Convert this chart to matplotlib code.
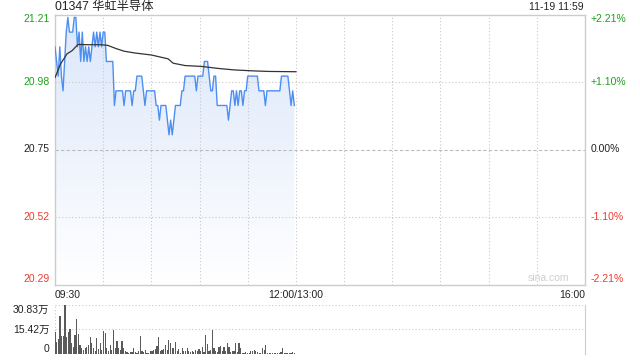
import numpy as np
import matplotlib
matplotlib.use('Agg')
import matplotlib.pyplot as plt
from matplotlib.colors import LinearSegmentedColormap

plt.rcParams['font.family'] = ['Liberation Sans', 'Noto Sans CJK SC', 'DejaVu Sans']

# header texts
title = '01347 华虹半导体'
stamp = '11-19 11:59'

# price axis
price_ticks = [21.21, 20.98, 20.75, 20.52, 20.29]
price_labels = ['21.21', '20.98', '20.75', '20.52', '20.29']
pct_labels = ['+2.21%', '+1.10%', '0.00%', '-1.10%', '-2.21%']
time_labels = ['09:30', '12:00/13:00', '16:00']
time_pos = [0, 150, 330]

# minute prices 09:30 - 11:59
prices = [21.10, 21.05, 21.00, 21.10, 21.00, 20.95, 21.05, 21.15, 21.20, 21.15,
          21.15, 21.15, 21.20, 21.20, 21.10, 21.15, 21.05, 21.15, 21.05, 21.10,
          21.05, 21.10, 21.05, 21.10, 21.15, 21.10, 21.15, 21.10, 21.15, 21.10,
          21.15, 21.15, 21.05, 21.05, 21.05, 21.05, 21.05, 20.90, 20.95, 20.95,
          20.95, 20.95, 20.95, 20.90, 20.95, 20.95, 20.95, 20.95, 20.90, 20.95,
          20.95, 21.00, 21.00, 21.00, 21.00, 20.95, 20.90, 20.95, 20.95, 20.95,
          20.95, 20.95, 20.95, 20.90, 20.90, 20.85, 20.90, 20.90, 20.90, 20.90,
          20.85, 20.80, 20.85, 20.80, 20.85, 20.90, 20.90, 20.90, 20.90, 20.95,
          20.95, 21.00, 21.00, 21.00, 21.00, 21.00, 21.00, 21.00, 20.95, 21.00,
          21.00, 21.00, 21.00, 21.05, 21.05, 21.05, 21.00, 20.95, 20.95, 21.00,
          21.00, 20.90, 20.90, 20.90, 20.90, 20.90, 20.90, 20.90, 20.85, 20.90,
          20.95, 20.95, 20.90, 20.95, 20.90, 20.95, 20.95, 20.90, 20.95, 20.95,
          21.00, 21.00, 21.00, 21.00, 21.00, 21.00, 21.00, 20.95, 20.95, 20.95,
          20.95, 20.90, 20.95, 20.95, 20.95, 20.95, 20.95, 20.95, 20.95, 20.95,
          20.95, 21.00, 21.00, 21.00, 21.00, 21.00, 20.95, 20.90, 20.95, 20.90]

# average price line (minute, value)
avg_minutes = [0, 3.4, 7.5, 10.7, 14.3, 20, 28.5, 32.7, 38, 43, 49.5, 60, 70.4,
               73.6, 81, 91.4, 102, 112, 123, 133, 150]
avg_prices = [20.995, 21.041, 21.076, 21.087, 21.108, 21.107, 21.107, 21.105,
              21.094, 21.085, 21.079, 21.072, 21.059, 21.044, 21.036, 21.033,
              21.026, 21.021, 21.018, 21.016, 21.015]

# volume in 万 shares
vol_labels = ['30.83万', '15.42万', '0']
vol_ticks = [30.83, 15.42, 0]
volumes = [14.0, 7.8, 9.2, 23.9, 11.3, 11.3, 30.8, 10.5, 13.6, 15.7,
           6.7, 4.6, 12.0, 22.0, 12.6, 5.7, 3.6, 2.5, 3.6, 4.6,
           5.7, 10.5, 6.7, 3.6, 2.1, 9.9, 2.9, 6.7, 2.5, 14.7,
           13.0, 3.6, 2.1, 5.7, 2.5, 15.1, 3.6, 8.2, 3.6, 2.5,
           8.2, 3.6, 2.1, 1.5, 0.8, 1.5, 1.5, 4.0, 1.5, 0.8,
           2.1, 11.3, 2.1, 1.5, 2.5, 0.8, 0.8, 2.1, 1.9, 2.5,
           2.9, 5.0, 10.9, 2.1, 2.5, 2.9, 5.7, 2.5, 8.8, 6.7,
           3.6, 4.0, 7.8, 2.1, 2.9, 0.8, 3.6, 2.1, 1.9, 3.6,
           2.1, 1.5, 1.9, 1.5, 2.5, 2.1, 2.9, 2.1, 4.6, 1.5,
           12.0, 6.3, 2.1, 2.5, 15.1, 3.6, 2.1, 1.5, 4.6, 5.0,
           2.1, 4.6, 2.1, 6.7, 4.6, 1.5, 2.1, 2.1, 6.7, 1.5,
           6.7, 3.6, 0.8, 0.8, 1.5, 0.8, 0.8, 2.1, 2.1, 2.5,
           1.9, 1.5, 0.8, 0.4, 3.6, 2.5, 5.5, 0.8, 0.8, 0.6,
           0.8, 0.6, 0.8, 0.6, 0.8, 1.0, 3.6, 0.8, 0.6, 0.8,
           0.6, 0.8, 1.5, 0.6]

green = '#1aa31a'
red = '#f03a2e'
label_colors = [green, green, '#222222', red, red]
grid_c = '#c8c8c8'
dot = (0, (1, 2))

fig = plt.figure(figsize=(6.4, 3.6), dpi=100)
ax = fig.add_axes([55 / 640, 1 - 284.5 / 360, 530 / 640, 270 / 360])

minutes = np.arange(len(prices))
ymin, ymax = price_ticks[-1], price_ticks[0]

# gradient area under price line
fill = ax.fill_between(minutes, prices, ymin, facecolor='none', edgecolor='none')
cmap = LinearSegmentedColormap.from_list('g', ['#ffffff', '#dbe7fb'])
grad = np.linspace(0, 1, 256).reshape(-1, 1)
im = ax.imshow(grad, extent=[0, 330, ymin, ymax], origin='lower',
               aspect='auto', cmap=cmap, zorder=1)
im.set_clip_path(fill.get_paths()[0], transform=ax.transData)

for x in range(30, 330, 30):
    ax.axvline(x, color=grid_c, lw=0.8, ls=dot, zorder=2)
ax.axhline(20.98, color=grid_c, lw=0.8, ls=dot, zorder=2)
ax.axhline(20.52, color=grid_c, lw=0.8, ls=dot, zorder=2)
ax.axhline(20.75, color='#bbbbbb', lw=0.8, ls=(0, (3, 2)), zorder=2)

ax.plot(minutes, prices, color='#4d8ff0', lw=1, zorder=3)
ax.plot(avg_minutes, avg_prices, color='#333333', lw=0.9, zorder=4)

ax.set_xlim(0, 330)
ax.set_ylim(ymin, ymax)
ax.set_xticks([])
ax.set_yticks([])
for s in ax.spines.values():
    s.set_color('#cccccc')
    s.set_linewidth(1)

for i, (p, lab, pct) in enumerate(zip(price_ticks, price_labels, pct_labels)):
    va = 'top' if i == 0 else ('bottom' if i == len(price_ticks) - 1 else 'center')
    ax.annotate(lab, (0, p), xycoords=('axes fraction', 'data'), xytext=(-4, 0),
                textcoords='offset points', ha='right', va=va, fontsize=7.5,
                color=label_colors[i])
    ax.annotate(pct, (1, p), xycoords=('axes fraction', 'data'), xytext=(4, 0),
                textcoords='offset points', ha='left', va=va, fontsize=7.5,
                color=label_colors[i])

for lab, pos, ha in zip(time_labels, time_pos, ['left', 'center', 'right']):
    ax.annotate(lab, (pos, ymin), xycoords='data', xytext=(0, -4),
                textcoords='offset points', ha=ha, va='top', fontsize=7.5,
                color='#222222')

ax.text(0.97, 0.025, 'sina.com', transform=ax.transAxes, ha='right', va='center',
        fontsize=7.5, color='#cfcfcf')

fig.text(55 / 640, 1 - 7 / 360, title, ha='left', va='center', fontsize=8.8,
         color='#222222')
fig.text(584 / 640, 1 - 7.5 / 360, stamp, ha='right', va='center', fontsize=7.5,
         color='#222222')

# volume panel
vax = fig.add_axes([55 / 640, 1 - 354 / 360, 530 / 640, 49 / 360])
bar_x = np.linspace(0, 149, len(volumes))
vax.bar(bar_x, volumes, width=0.75, color='#5a5a5a', zorder=3)
for v in vol_ticks:
    vax.axhline(v, color=grid_c, lw=0.8, ls=dot, zorder=1)
vax.axvline(0, color=grid_c, lw=0.8, ls=dot, zorder=1)
vax.set_xlim(0, 330)
vax.set_ylim(0, vol_ticks[0])
vax.set_xticks([])
vax.set_yticks([])
for k, s in vax.spines.items():
    if k == 'right':
        s.set_color('#cccccc')
    else:
        s.set_visible(False)
for i, (v, lab) in enumerate(zip(vol_ticks, vol_labels)):
    va = 'top' if i == 0 else ('bottom' if i == len(vol_ticks) - 1 else 'center')
    vax.annotate(lab, (0, v), xycoords=('axes fraction', 'data'), xytext=(-4, 0),
                 textcoords='offset points', ha='right', va=va, fontsize=7.5,
                 color='#222222')

fig.savefig('out.png', dpi=100)
